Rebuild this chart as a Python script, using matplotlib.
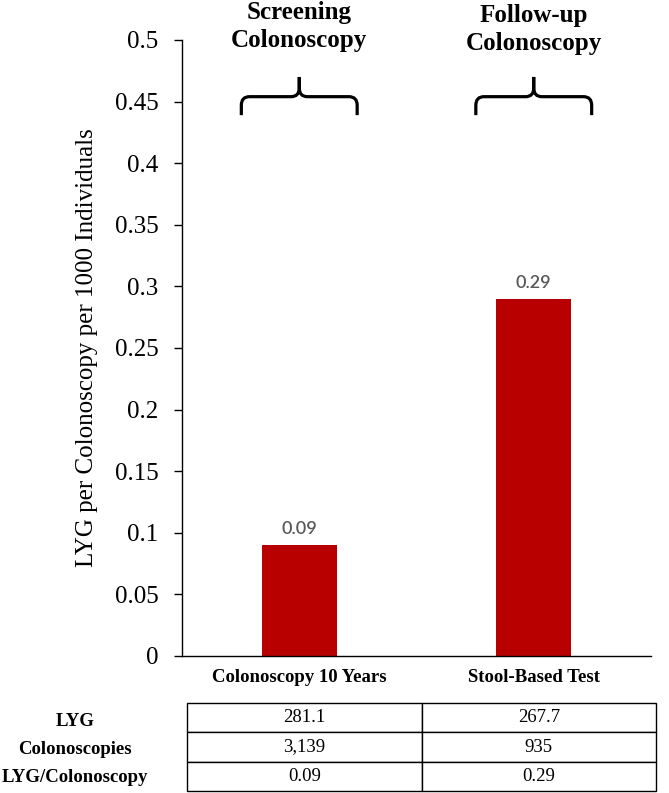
import numpy as np
import matplotlib
matplotlib.use('Agg')
import matplotlib.pyplot as plt
from matplotlib.path import Path
from matplotlib.patches import PathPatch

plt.rcParams['font.family'] = ['Liberation Serif', 'DejaVu Serif']

# data
categories = ['Colonoscopy 10 Years', 'Stool-Based Test']
lyg_per_colo = [0.09, 0.29]
group_titles = ['Screening\nColonoscopy', 'Follow-up\nColonoscopy']
row_labels = ['LYG', 'Colonoscopies', 'LYG/Colonoscopy']
table_vals = [['281.1', '267.7'],
              ['3,139', '935'],
              ['0.09', '0.29']]
yticks = [0, 0.05, 0.1, 0.15, 0.2, 0.25, 0.3, 0.35, 0.4, 0.45, 0.5]

W, H = 669, 793
fig = plt.figure(figsize=(W / 100, H / 100), dpi=100)
ax = fig.add_axes([182 / W, 137 / H, 469 / W, 616 / H])

x = np.arange(len(categories))
bars = ax.bar(x, lyg_per_colo, width=0.32, color='#b80000')
for xi, v in zip(x, lyg_per_colo):
    ax.annotate(f'{v:.2f}', (xi, v), xytext=(0, 8), textcoords='offset points',
                ha='center', va='baseline', fontsize=13, color='#595959',
                family='Lato', fontweight='semibold')

ax.set_xlim(-0.5, 1.5)
ax.set_ylim(0, 0.5)
ax.set_yticks(yticks)
ax.set_yticklabels([f'{v:g}' for v in yticks])
ax.set_xticks(x)
ax.set_xticklabels(categories, fontweight='bold', fontsize=13.5)
ax.tick_params(axis='x', length=0, pad=9)
ax.tick_params(axis='y', length=6, width=1, pad=11, labelsize=18)
for s in ['top', 'right']:
    ax.spines[s].set_visible(False)
ax.spines['left'].set_linewidth(1)
ax.spines['bottom'].set_linewidth(1)
ax.set_ylabel('LYG per Colonoscopy per 1000 Individuals', fontsize=18)
ax.yaxis.set_label_coords(-0.18, 0.5)


# curly braces above each bar
def brace(xc, hw=0.247, yb=0.454, ye=0.439, yt=0.47, rx=0.035, ry=0.007):
    verts = [(xc - hw, ye), (xc - hw, yb - ry), (xc - hw, yb), (xc - hw + rx, yb),
             (xc - rx, yb), (xc, yb), (xc, yb + ry), (xc, yt)]
    codes = [Path.MOVETO, Path.LINETO, Path.CURVE3, Path.CURVE3,
             Path.LINETO, Path.CURVE3, Path.CURVE3, Path.LINETO]
    left = PathPatch(Path(verts, codes), fill=False, lw=2.3, color='black',
                     capstyle='butt')
    verts_r = [(2 * xc - vx, vy) for vx, vy in verts]
    right = PathPatch(Path(verts_r, codes), fill=False, lw=2.3, color='black',
                      capstyle='butt')
    ax.add_patch(left)
    ax.add_patch(right)


for xi in x:
    brace(xi)

# group titles above braces (baseline of the last line)
title_base = [47, 50]
for xi, t, yb in zip(x, group_titles, title_base):
    xf = fig.transFigure.inverted().transform(ax.transData.transform((xi, 0)))[0]
    fig.text(xf, 1 - yb / H, t, ha='center', va='baseline', fontsize=18,
             fontweight='bold', linespacing=1.3)

# table below
tax = fig.add_axes([187 / W, 2 / H, 469 / W, 88 / H])
tax.axis('off')
tbl = tax.table(cellText=table_vals, cellLoc='center', bbox=[0, 0, 1, 1])
tbl.auto_set_font_size(False)
tbl.set_fontsize(13.5)
for cell in tbl.get_celld().values():
    cell.set_linewidth(1)

row_y = [721, 750, 778]
for lab, yy in zip(row_labels, row_y):
    fig.text(75 / W, 1 - yy / H, lab, ha='center', va='center', fontsize=13.5,
             fontweight='bold')

fig.savefig('out.png', dpi=100)
